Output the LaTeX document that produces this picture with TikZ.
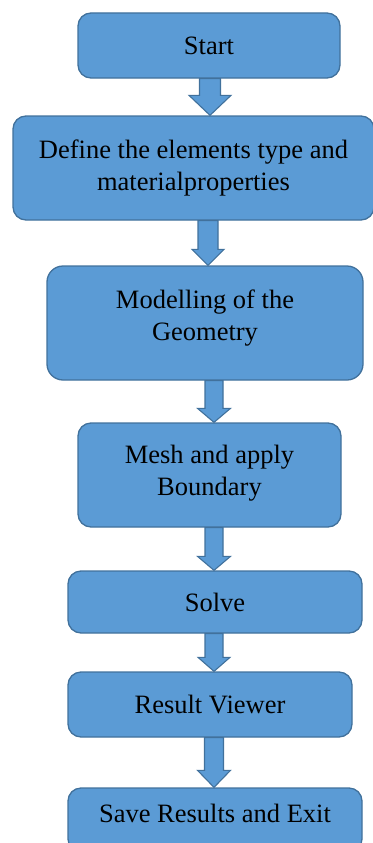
\documentclass[tikz,border=0pt]{standalone}
\usepackage{fontspec}
\setmainfont{Liberation Serif}
\usetikzlibrary{calc}
\definecolor{boxfill}{HTML}{5B9BD5}
\definecolor{boxline}{HTML}{41719C}
\tikzset{
  box/.style={draw=boxline, fill=boxfill, line width=1.3pt, rounded corners=13pt,
    align=center, inner sep=0pt, font=\fontsize{26.5}{32}\selectfont, text=black},
  barrowstyle/.style={draw=boxline, fill=boxfill, line width=1.1pt, line join=miter}
}
% #1 from node, #2 to node, #3 centre x (pt), #4 shaft half width, #5 head half width, #6 head length
\newcommand\blockarrow[6]{%
  \draw[barrowstyle] let \p1=(#1.south), \p2=(#2.north) in
    ({#3pt-#4pt},\y1) -- ({#3pt+#4pt},\y1) -- ({#3pt+#4pt},\y2+#6pt) --
    ({#3pt+#5pt},\y2+#6pt) -- (#3pt,\y2) -- ({#3pt-#5pt},\y2+#6pt) --
    ({#3pt-#4pt},\y2+#6pt) -- cycle;}
\begin{document}
\begin{tikzpicture}[x=1pt,y=-1pt]
\useasboundingbox (0,0) rectangle (372,843);
\node[box, minimum width=262pt, minimum height=65pt] (start) at (209,45.5) {Start};
\node[box, minimum width=361pt, minimum height=104pt] (define) at (193.5,168) {Define the elements type and\\materialproperties};
\node[box, minimum width=316pt, minimum height=114pt, rounded corners=16pt, text depth=16pt] (model) at (205,323) {Modelling of the\\Geometry};
\node[box, minimum width=263pt, minimum height=104pt, text depth=10pt] (mesh) at (209.5,475) {Mesh and apply\\Boundary};
\node[box, minimum width=294pt, minimum height=62pt] (solve) at (215,602) {Solve};
\node[box, minimum width=284pt, minimum height=65pt] (view) at (210,704.5) {Result Viewer};
\node[box, minimum width=294pt, minimum height=64pt, text depth=14pt] (save) at (215,820) {Save Results and Exit};
\blockarrow{start}{define}{210}{10.5}{21}{20}
\blockarrow{define}{model}{208}{10}{16}{16}
\blockarrow{model}{mesh}{214}{9}{16.5}{14}
\blockarrow{mesh}{solve}{214}{9}{16.5}{14}
\blockarrow{solve}{view}{214}{9}{16}{14}
\blockarrow{view}{save}{214}{9.5}{16.5}{17}
\end{tikzpicture}
\end{document}
